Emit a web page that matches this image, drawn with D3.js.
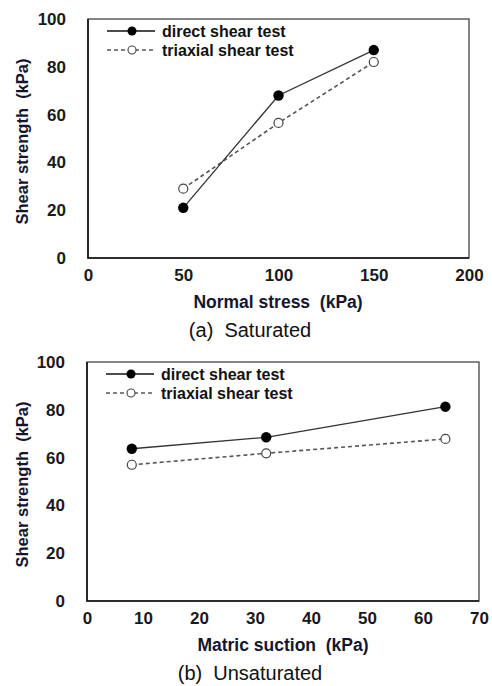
<!DOCTYPE html>
<html lang="en">
<head>
  <meta charset="UTF-8">
  <title>Shear strength</title>
  <script src="https://cdn.jsdelivr.net/npm/d3@7"></script>
  <style>
    body { margin: 0; background: #fff; }
    svg text { font-family: "Liberation Sans", Arial, sans-serif; white-space: pre; }
  </style>
</head>
<body>
  <div id="chart"></div>
  <script>
    // values
    const seriesNames = ["direct shear test", "triaxial shear test"];
    const yTicks = [0, 20, 40, 60, 80, 100];

    const satStress = [50, 100, 150];
    const satDirect = [21, 68, 87];
    const satTriaxial = [29, 56.5, 82];
    const satXTicks = [0, 50, 100, 150, 200];

    const unsatSuction = [8, 32, 64];
    const unsatDirect = [63.7, 68.5, 81.3];
    const unsatTriaxial = [57, 61.8, 67.8];
    const unsatXTicks = [0, 10, 20, 30, 40, 50, 60, 70];

    const w = 492, h = 686;
    const svg = d3.select("#chart").append("svg")
      .attr("width", w).attr("height", h);

    function drawPanel(opt) {
      const x = d3.scaleLinear().domain(opt.xDomain).range([opt.left, opt.right]);
      const y = d3.scaleLinear().domain([0, 100]).range([opt.bottom, opt.top]);
      const g = svg.append("g");

      // frame
      g.append("rect")
        .attr("x", opt.left).attr("y", opt.top)
        .attr("width", opt.right - opt.left).attr("height", opt.bottom - opt.top)
        .attr("fill", "none").attr("stroke", "#444").attr("stroke-width", 1.3);
      g.append("path")
        .attr("d", `M${opt.left},${opt.top}V${opt.bottom}H${opt.right}`)
        .attr("fill", "none").attr("stroke", "#111").attr("stroke-width", 1.6);

      // axes (labels only, no tick marks)
      const xAxis = d3.axisBottom(x).tickValues(opt.xTicks).tickSize(0).tickPadding(11);
      const yAxis = d3.axisLeft(y).tickValues(yTicks).tickSize(0).tickPadding(22);
      const gx = g.append("g").attr("transform", `translate(0,${opt.bottom})`).call(xAxis);
      const gy = g.append("g").attr("transform", `translate(${opt.left},0)`).call(yAxis);
      [gx, gy].forEach(a => {
        a.select(".domain").remove();
        a.selectAll("text")
          .attr("font-size", 17).attr("font-weight", "bold")
          .attr("fill", "#1a1a1a")
          .style("font-family", "'Liberation Sans', Arial, sans-serif");
      });

      // axis titles
      g.append("text")
        .attr("transform", `translate(28,${(opt.top + opt.bottom) / 2 + 3}) rotate(-90)`)
        .attr("text-anchor", "middle")
        .attr("font-size", 16.5).attr("font-weight", "bold").attr("fill", "#15152e")
        .text("Shear strength  (kPa)");
      g.append("text")
        .attr("x", opt.xTitleX).attr("y", opt.bottom + 50)
        .attr("text-anchor", "middle")
        .attr("font-size", 17.5).attr("font-weight", "bold").attr("fill", "#15152e")
        .text(opt.xTitle);

      // caption
      g.append("text")
        .attr("x", 250).attr("y", opt.bottom + 79)
        .attr("text-anchor", "middle")
        .attr("font-size", 20).attr("fill", "#111")
        .text(opt.caption);

      const line = d3.line().x(d => x(d[0])).y(d => y(d[1]));
      const direct = opt.xs.map((v, i) => [v, opt.direct[i]]);
      const triax = opt.xs.map((v, i) => [v, opt.triaxial[i]]);

      g.append("path").datum(triax).attr("d", line)
        .attr("fill", "none").attr("stroke", "#555").attr("stroke-width", 1.6)
        .attr("stroke-dasharray", "4,3");
      g.append("path").datum(direct).attr("d", line)
        .attr("fill", "none").attr("stroke", "#333").attr("stroke-width", 1.3);

      g.selectAll(".tri").data(triax).enter().append("circle")
        .attr("cx", d => x(d[0])).attr("cy", d => y(d[1])).attr("r", 4.5)
        .attr("fill", "#fff").attr("stroke", "#444").attr("stroke-width", 1.2);
      g.selectAll(".dir").data(direct).enter().append("circle")
        .attr("cx", d => x(d[0])).attr("cy", d => y(d[1])).attr("r", 5.2)
        .attr("fill", "#000");

      // legend
      const lx = opt.left + 19, ly = opt.top + 12;
      seriesNames.forEach((name, i) => {
        const yy = ly + i * 19;
        g.append("line")
          .attr("x1", lx).attr("x2", lx + 48).attr("y1", yy).attr("y2", yy)
          .attr("stroke", i === 0 ? "#111" : "#555")
          .attr("stroke-width", i === 0 ? 1.3 : 1.4)
          .attr("stroke-dasharray", i === 0 ? null : "4,3");
        g.append("circle")
          .attr("cx", lx + 25).attr("cy", yy).attr("r", i === 0 ? 4.5 : 4)
          .attr("fill", i === 0 ? "#000" : "#fff")
          .attr("stroke", i === 0 ? "none" : "#444").attr("stroke-width", 1.1);
        g.append("text")
          .attr("x", lx + 55).attr("y", yy + 6)
          .attr("font-size", 16).attr("font-weight", "bold").attr("fill", "#111")
          .text(name);
      });
    }

    drawPanel({
      left: 88, right: 469, top: 19, bottom: 258,
      xDomain: [0, 200], xTicks: satXTicks,
      xs: satStress, direct: satDirect, triaxial: satTriaxial,
      xTitle: "Normal stress  (kPa)", xTitleX: 278,
      caption: "(a)  Saturated"
    });

    drawPanel({
      left: 87, right: 479, top: 362, bottom: 601,
      xDomain: [0, 70], xTicks: unsatXTicks,
      xs: unsatSuction, direct: unsatDirect, triaxial: unsatTriaxial,
      xTitle: "Matric suction  (kPa)", xTitleX: 283,
      caption: "(b)  Unsaturated"
    });
  </script>
</body>
</html>
